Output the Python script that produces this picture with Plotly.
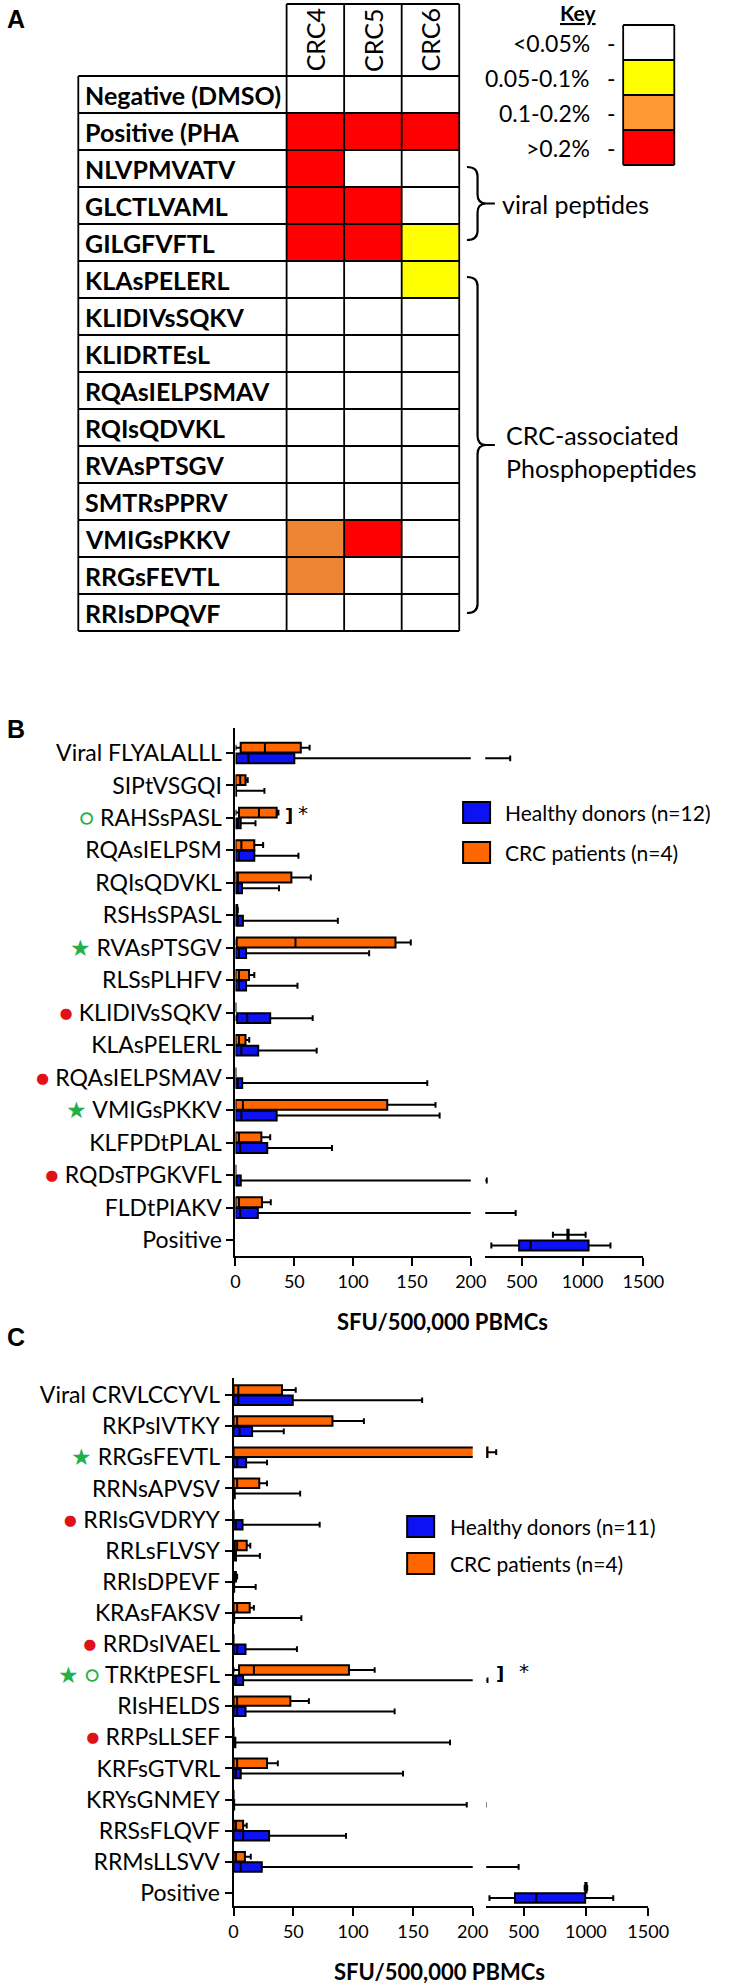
import plotly.graph_objects as go

W, H = 730, 1988
def PX(x): return x / W
def PY(y): return 1 - y / H

# ---------------- Panel A data ----------------
rows_A = ["Negative (DMSO)", "Positive (PHA", "NLVPMVATV", "GLCTLVAML", "GILGFVFTL",
          "KLAsPELERL", "KLIDIVsSQKV", "KLIDRTEsL", "RQAsIELPSMAV", "RQIsQDVKL",
          "RVAsPTSGV", "SMTRsPPRV", "VMIGsPKKV", "RRGsFEVTL", "RRIsDPQVF"]
cols_A = ["CRC4", "CRC5", "CRC6"]
# level: 0 <0.05%, 1 0.05-0.1%, 2 0.1-0.2%, 3 >0.2%
CRC4 = [0, 3, 3, 3, 3, 0, 0, 0, 0, 0, 0, 0, 2, 2, 0]
CRC5 = [0, 3, 0, 3, 3, 0, 0, 0, 0, 0, 0, 0, 3, 0, 0]
CRC6 = [0, 3, 0, 0, 1, 1, 0, 0, 0, 0, 0, 0, 0, 0, 0]
key_labels = ["<0.05%", "0.05-0.1%", "0.1-0.2%", ">0.2%"]
key_levels = [0, 1, 2, 3]

# ---------------- Panel B data ----------------
B_cats = ["Viral FLYALALLL", "SIPtVSGQI", "RAHSsPASL", "RQAsIELPSM", "RQIsQDVKL", "RSHsSPASL",
          "RVAsPTSGV", "RLSsPLHFV", "KLIDIVsSQKV", "KLAsPELERL", "RQAsIELPSMAV", "VMIGsPKKV",
          "KLFPDtPLAL", "RQDsTPGKVFL", "FLDtPIAKV", "Positive"]
B_marks = {"RAHSsPASL": "o", "RVAsPTSGV": "*", "KLIDIVsSQKV": "r", "RQAsIELPSMAV": "r",
           "VMIGsPKKV": "*", "RQDsTPGKVFL": "r"}
B_crc_q1  = [4.4, 0, 3, 0, 0, 0, 1, 0, 0, 0, 0, 0, 0, 0, 0, 875]
B_crc_med = [25, 4, 20, 5, 2, 0.5, 51, 3, 0, 3, 0, 6.3, 3, 0, 3, 880]
B_crc_q3  = [55.5, 8.5, 35, 16, 47.5, 1.5, 136, 11.5, 0, 8.5, 0, 129, 22, 0, 22.5, 885]
B_crc_lo  = [0, 0, 0, 0, 0, 0, 0, 0, 0, 0, 0, 0, 0, 0, 0, 756]
B_crc_hi  = [63, 10.4, 36.5, 23.5, 64, 2, 149, 16, 0, 11.7, 0, 170, 29.5, 0, 30, 1025]
B_hd_q1  = [0.5, 0, 0.5, 0, 0, 0, 0, 0, 1.4, 0, 0, 0, 0, 0, 0, 478]
B_hd_med = [11, 0, 2, 3, 2, 2, 3, 3, 10, 5, 2, 5, 4, 1, 4, 573]
B_hd_q3  = [50, 0.5, 4.4, 16, 5.5, 6.3, 9, 9, 29.5, 19.3, 5.7, 35, 27, 4.5, 19, 1049]
B_hd_lo  = [0, 0, 0, 0, 0, 0, 0, 0, 0, 0, 0, 0, 0, 0, 0, 250]
B_hd_hi  = [405, 24.6, 17, 53.5, 37, 87, 113.6, 52.7, 65.6, 69, 163, 173.5, 82, 212, 450, 1229]

# ---------------- Panel C data ----------------
C_cats = ["Viral CRVLCCYVL", "RKPsIVTKY", "RRGsFEVTL", "RRNsAPVSV", "RRIsGVDRYY", "RRLsFLVSY",
          "RRIsDPEVF", "KRAsFAKSV", "RRDsIVAEL", "TRKtPESFL", "RIsHELDS", "RRPsLLSEF",
          "KRFsGTVRL", "KRYsGNMEY", "RRSsFLQVF", "RRMsLLSVV", "Positive"]
C_marks = {"RRGsFEVTL": "*", "RRIsGVDRYY": "r", "RRDsIVAEL": "r", "TRKtPESFL": "*o",
           "RRPsLLSEF": "r"}
C_crc_q1  = [0, 0, 0, 0, 0, 1, 0, 0, 0, 4.6, 0, 0, 0, 0, 0, 0, 995]
C_crc_med = [4, 3, 204, 3, 0, 3, 1, 3, 0, 17, 3, 0, 3, 0, 2, 2, 1000]
C_crc_q3  = [40.5, 82.7, 210, 21.5, 0, 11, 2, 13.5, 0, 96.5, 47.5, 0, 28, 0, 8, 9.5, 1005]
C_crc_lo  = [0, 0, 0, 0, 0, 0, 0, 0, 0, 0, 0, 0, 0, 0, 0, 0, 990]
C_crc_hi  = [52, 109, 280, 28, 0, 14, 3, 17, 0, 118, 63, 0, 37, 0, 11, 14.4, 1010]
C_hd_q1  = [0, 0, 0, 0, 0, 0, 0, 0, 0, 0, 0, 0, 0, 0, 0, 0, 431]
C_hd_med = [4, 5, 3, 0, 2, 0.5, 0, 0, 3, 2, 3, 0.5, 2, 0, 8, 6, 601]
C_hd_q3  = [49.5, 15.5, 10.5, 1, 7.5, 2, 0.5, 0.5, 10, 8, 10, 1.5, 6, 0.5, 29.7, 23.6, 994]
C_hd_lo  = [0, 0, 0, 0, 0, 0, 0, 0, 0, 0, 0, 0, 0, 0, 0, 0, 226]
C_hd_hi  = [157.7, 42, 28, 55.7, 72, 22, 18.5, 56.7, 53, 210, 134.7, 181, 141.7, 195, 94, 460, 1219]

x_ticks_low = [0, 50, 100, 150, 200]
x_ticks_high = [500, 1000, 1500]

ORANGE = "#FF6600"
BLUE = "#0D12F2"
GREEN = "#22B04B"
RED = "#E01218"
FONT = "Lato"

fig = go.Figure()

# ---------------- Panel A: table heatmap ----------------
table_colors = ["#FFFFFF", "#FFFF00", "#EE8533", "#FF0000"]
def stepscale(cols):
    n = len(cols)
    sc = []
    for i, c in enumerate(cols):
        sc.append([i / n, c]); sc.append([(i + 1) / n, c])
    return sc

zA = [[a, b, c] for a, b, c in zip(CRC4, CRC5, CRC6)]
fig.add_trace(go.Heatmap(z=zA, x=cols_A, y=rows_A, xaxis="x5", yaxis="y5",
                         colorscale=stepscale(table_colors), zmin=-0.5, zmax=3.5,
                         showscale=False, hoverinfo="skip"))
key_colors = ["#FFFFFF", "#FFFF00", "#FF9933", "#FF0000"]
fig.add_trace(go.Heatmap(z=[[v] for v in key_levels], x=["key"], y=key_labels,
                         xaxis="x6", yaxis="y6",
                         colorscale=stepscale(key_colors), zmin=-0.5, zmax=3.5,
                         showscale=False, hoverinfo="skip"))

# ---------------- Panels B & C: boxes ----------------
def add_boxes(cats, crc, hd, xa_list, ya, n_crc, n_hd, grp):
    for xa in xa_list:
        for name, st, col, og in [(n_crc, crc, ORANGE, "crc"), (n_hd, hd, BLUE, "hd")]:
            q1, med, q3, lo, hi = st
            fig.add_trace(go.Box(y=cats, q1=q1, median=med, q3=q3, lowerfence=lo,
                                 upperfence=hi, orientation="h", name=name,
                                 xaxis=xa, yaxis=ya, fillcolor=col,
                                 offsetgroup=og, alignmentgroup=grp,
                                 line=dict(color="black", width=2),
                                 whiskerwidth=0.6, boxpoints=False, showlegend=False,
                                 hoverinfo="skip"))

add_boxes(B_cats, (B_crc_q1, B_crc_med, B_crc_q3, B_crc_lo, B_crc_hi),
          (B_hd_q1, B_hd_med, B_hd_q3, B_hd_lo, B_hd_hi), ["x", "x2"], "y",
          "CRC patients (n=4)", "Healthy donors (n=12)", "B")
add_boxes(C_cats, (C_crc_q1, C_crc_med, C_crc_q3, C_crc_lo, C_crc_hi),
          (C_hd_q1, C_hd_med, C_hd_q3, C_hd_lo, C_hd_hi), ["x3", "x4"], "y2",
          "CRC patients (n=4)", "Healthy donors (n=11)", "C")

def mark_label(cat, marks):
    m = marks.get(cat, "")
    pre = ""
    for ch in m:
        if ch == "*":
            pre += f"<span style='color:{GREEN}'>★</span> "
        elif ch == "o":
            pre += f"<span style='color:{GREEN}'>○</span> "
        elif ch == "r":
            pre += f"<span style='color:{RED}'>●</span> "
    return pre + cat

xcommon = dict(showline=True, linecolor="black", linewidth=2, ticks="outside", ticklen=8,
               tickwidth=2, tickcolor="black", showgrid=False, zeroline=False,
               tickfont=dict(family=FONT, size=18, color="black"))
ycommon = dict(type="category", showline=True, linecolor="black", linewidth=2,
               ticks="outside", ticklen=7, tickwidth=2, tickcolor="black", showgrid=False,
               zeroline=False, tickfont=dict(family=FONT, size=23, color="black"))

layout = dict(
    width=W, height=H, margin=dict(l=0, r=0, t=0, b=0), paper_bgcolor="white",
    plot_bgcolor="white", boxmode="group", boxgap=0.34, boxgroupgap=0.08, showlegend=False,
    xaxis=dict(domain=[PX(239), PX(483)], anchor="y", range=[0, 200], tickvals=x_ticks_low, **xcommon),
    xaxis2=dict(domain=[PX(498), PX(662)], anchor="y", range=[200, 1500], tickvals=x_ticks_high, **xcommon),
    yaxis=dict(domain=[PY(1256), PY(728)], anchor="x", range=[len(B_cats) - 1 + 0.49, -0.77],
               categoryorder="array", categoryarray=B_cats, tickvals=B_cats,
               ticktext=[mark_label(c, B_marks) for c in B_cats], **ycommon),
    xaxis3=dict(domain=[PX(237), PX(485)], anchor="y2", range=[0, 200], tickvals=x_ticks_low, **xcommon),
    xaxis4=dict(domain=[PX(499), PX(667)], anchor="y2", range=[200, 1500], tickvals=x_ticks_high, **xcommon),
    yaxis2=dict(domain=[PY(1906), PY(1378)], anchor="x3", range=[len(C_cats) - 1 + 0.42, -0.55],
                categoryorder="array", categoryarray=C_cats, tickvals=C_cats,
                ticktext=[mark_label(c, C_marks) for c in C_cats], **ycommon),
    xaxis5=dict(domain=[PX(292), PX(471)], anchor="y5", type="category", range=[-0.5, 2.5],
                visible=False),
    yaxis5=dict(domain=[PY(631), PY(76)], anchor="x5", type="category",
                range=[len(rows_A) - 0.5, -0.5], visible=False),
    xaxis6=dict(domain=[PX(641), PX(694)], anchor="y6", type="category", range=[-0.5, 0.5],
                visible=False),
    yaxis6=dict(domain=[PY(165), PY(25)], anchor="x6", type="category", range=[3.5, -0.5],
                visible=False),
)
fig.update_layout(**layout)

shapes = []
ann = []
LW = 1.8
def line(x0, y0, x1, y1, w=LW):
    shapes.append(dict(type="line", xref="paper", yref="paper", x0=PX(x0), y0=PY(y0),
                       x1=PX(x1), y1=PY(y1), line=dict(color="black", width=w)))

def text(x, y, s, size, xanchor="center", family=FONT, xref="paper", yref="paper", **kw):
    ann.append(dict(x=x, y=y, xref=xref, yref=yref, text=s, showarrow=False,
                    xanchor=xanchor, yanchor="middle",
                    font=dict(family=family, size=size, color="black"), **kw))

# table grid
t_left, lab_right, t_right, t_top, t_bot, h_top = 76, 292, 471, 76, 631, 4
rowh = (t_bot - t_top) / len(rows_A)
colw = (t_right - lab_right) / len(cols_A)
for i in range(len(rows_A) + 1):
    line(t_left, t_top + i * rowh, t_right, t_top + i * rowh)
line(t_left, t_top, t_left, t_bot)
for j in range(len(cols_A) + 1):
    line(lab_right + j * colw, h_top, lab_right + j * colw, t_bot)
line(lab_right, h_top, t_right, h_top)

for r in rows_A:
    text(PX(81), r, f"<b>{r}</b>", 25, xanchor="left", yref="y5")
for c in cols_A:
    text(c, PY(40), c, 25, xref="x5", textangle=-90)

# key
k_left, k_right, k_top, k_bot = 641, 694, 25, 165
kh = (k_bot - k_top) / len(key_labels)
for i in range(len(key_labels) + 1):
    line(k_left, k_top + i * kh, k_right, k_top + i * kh)
line(k_left, k_top, k_left, k_bot)
line(k_right, k_top, k_right, k_bot)
for lab in key_labels:
    text(PX(609), lab, lab, 23, xanchor="right", yref="y6")
    text(PX(629), lab, "-", 23, yref="y6")
text(PX(595), PY(12), "<b><u>Key</u></b>", 21)

# braces
def brace(top, bot, x0=479, xv=490, xt=499, xd=508):
    mid = (top + bot) / 2
    r = 9
    P = lambda x, y: f"{PX(x):.5f},{PY(y):.5f}"
    path = (f"M {P(x0, top)} Q {P(xv, top)} {P(xv, top + r)} L {P(xv, mid - r)} "
            f"Q {P(xv, mid)} {P(xt, mid)} L {P(xd, mid)} M {P(xt, mid)} "
            f"Q {P(xv, mid)} {P(xv, mid + r)} L {P(xv, bot - r)} Q {P(xv, bot)} {P(x0, bot)}")
    shapes.append(dict(type="path", xref="paper", yref="paper", path=path,
                       line=dict(color="black", width=2.2)))
brace(167, 240)
brace(277, 613)
text(PX(513), PY(204), "viral peptides", 25, xanchor="left")
text(PX(517), PY(451), "CRC-associated<br>Phosphopeptides", 25, xanchor="left", align="left")

# panel letters
for letter, yy in [("A", 19), ("B", 729), ("C", 1337)]:
    text(PX(0), PY(yy), f"<b>{letter}</b>", 25, xanchor="left", family="Liberation Sans")

# axis titles
for yy, xx in [(1321, 454), (1971, 451)]:
    text(PX(xx), PY(yy), "<b>SFU/500,000 PBMCs</b>", 22)

# legends (B and C)
def legend_block(x0, ytop_blue, ytop_or, xtext, hd_text):
    for ytop, col, txt in [(ytop_blue, BLUE, hd_text), (ytop_or, ORANGE, "CRC patients (n=4)")]:
        shapes.append(dict(type="rect", xref="paper", yref="paper", x0=PX(x0), x1=PX(x0 + 28),
                           y0=PY(ytop), y1=PY(ytop + 21), fillcolor=col,
                           line=dict(color="black", width=2)))
        text(PX(xtext), PY(ytop + 10.5), txt, 21, xanchor="left")
legend_block(475, 802, 842, 516, "Healthy donors (n=12)")
legend_block(417, 1516, 1553, 459, "Healthy donors (n=11)")

# significance marks
for xb, xs, yy in [(294, 309, 815), (513, 538, 1673)]:
    text(PX(xb), PY(yy), "<b>]</b>", 18, family="DejaVu Sans")
    text(PX(xs), PY(yy - 2), "*", 20, family="DejaVu Sans")

fig.update_layout(shapes=shapes, annotations=ann)
fig.write_html("out.html", config={"displayModeBar": False},
               post_script="document.body.style.margin='0px';")
